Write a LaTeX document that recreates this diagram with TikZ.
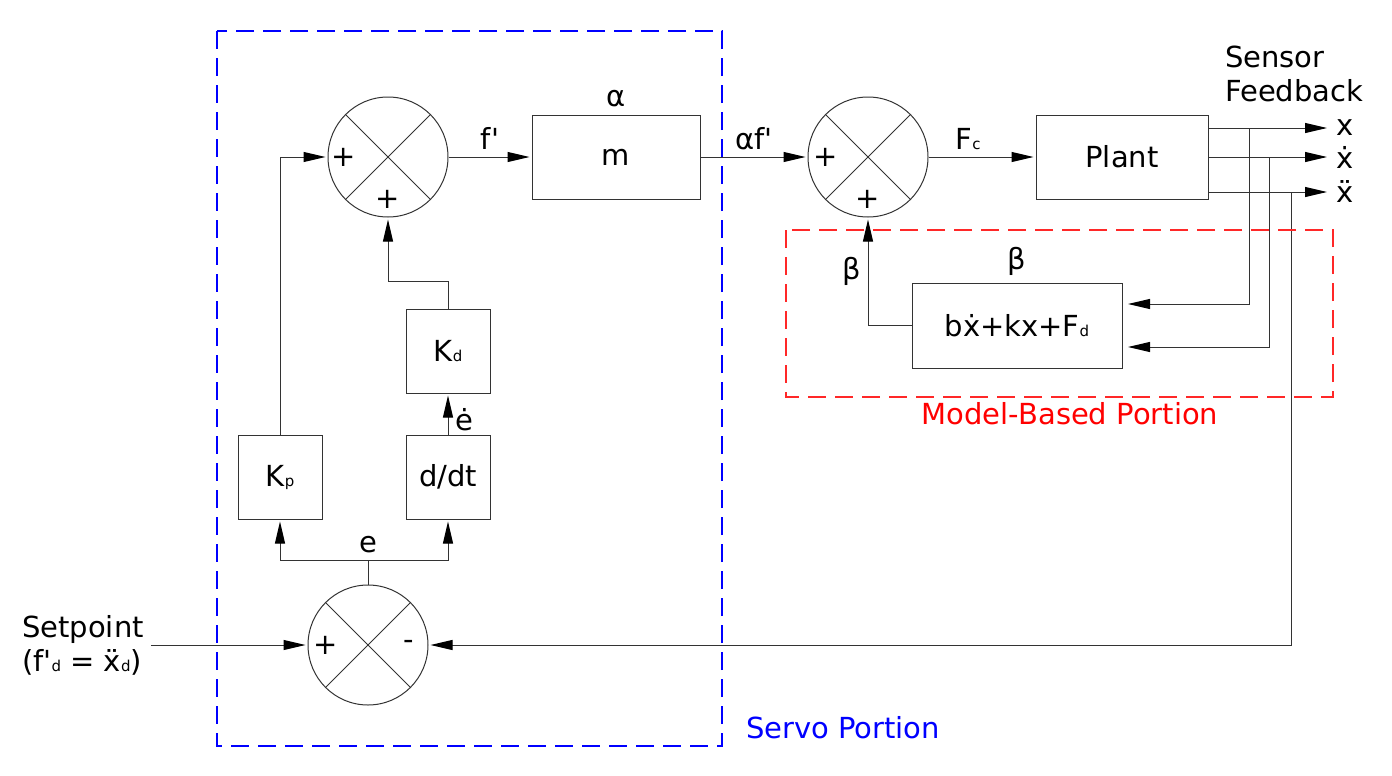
\documentclass[tikz,border=0pt]{standalone}
\usepackage{fontspec}
\setmainfont{DejaVu Sans}
\usetikzlibrary{arrows.meta,positioning}
\newcommand\sbs[1]{{\fontsize{7.5}{8}\selectfont #1}}
\definecolor{servoblue}{RGB}{0,0,255}
\definecolor{modelred}{RGB}{255,40,40}

\begin{document}
\begin{tikzpicture}[
  x=0.5pt, y=-0.5pt,
  font=\fontsize{14.5}{17}\selectfont,
  line width=0.5pt, draw=black!80,
  blk/.style={draw, minimum width=42pt, minimum height=42pt, inner sep=0pt},
  sumnode/.style={draw, circle, minimum size=60pt, inner sep=0pt,
    path picture={\draw[black!80] (path picture bounding box.north west) -- (path picture bounding box.south east)
      (path picture bounding box.north east) -- (path picture bounding box.south west);}},
  sgn/.style={inner sep=0pt},
  arr/.style={-{Triangle[length=11pt,width=5pt,color=black]}, shorten >=1pt},
  frame/.style={line width=0.9pt, dash pattern=on 9pt off 4.5pt}
]
\useasboundingbox (0,0) rectangle (1392,776);

% --- servo part ---
\node[sumnode] (s1) at (388,157) {};
\node[sgn] at ([xshift=8pt]s1.west) {+};
\node[sgn] at ([yshift=9pt]s1.south) {+};
\node[blk, minimum width=84pt, label={[label distance=0pt]above:α}] (m) at (616,157) {m};

\node[blk] (kd) at (448,351) {K\sbs{d}};
\node[blk] (ddt) at (448,477) {d/dt};
\node[blk] (kp) at (280,477) {K\sbs{p}};

\node[sumnode] (s3) at (368,645) {};
\node[sgn] at ([xshift=9pt]s3.west) {+};
\node[sgn] at ([xshift=-10pt]s3.east) {-};

\node[anchor=west, align=left] (sp) at (15,645) {Setpoint\\(f\textquotesingle\sbs{d} = ẍ\sbs{d})};

\draw[arr] (s1.east) -- node[above] {f\textquotesingle} (m.west);
\draw[arr] (kp.north) |- (s1.west);
\draw[arr] (kd.north) -- ++(0,-27) -| (s1.south);
\draw[arr] (ddt.north) -- node[right, pos=0.35] {ė} (kd.south);
\draw (s3.north) -- ++(0,-24) coordinate (ej) node[above] {e};
\draw[arr] (ej) -| (kp.south);
\draw[arr] (ej) -| (ddt.south);
\draw[arr] (sp.east |- s3.west) -- (s3.west);

% --- model-based part ---
\node[sumnode] (s2) at (868,157) {};
\node[sgn] at ([xshift=9pt]s2.west) {+};
\node[sgn] at ([yshift=9pt]s2.south) {+};
\node[blk, minimum width=86pt] (plant) at (1122,157) {Plant};
\node[blk, minimum width=105pt, minimum height=42.5pt, label={[label distance=0pt]above:β}] (bb) at (1017,325.5) {bẋ+kx+F\sbs{d}};

\draw[arr] (m.east) -- node[above] {αf\textquotesingle} (s2.west);
\draw[arr] (s2.east) -- node[above, pos=0.37] {F\sbs{c}} (plant.west);
\draw[arr] (bb.west) -| node[left, pos=0.75] {β} (s2.south);

% --- sensor outputs ---
\coordinate (xo) at (1329,128);
\coordinate (vo) at (1329,157);
\coordinate (ao) at (1329,192);
\draw[arr] (plant.east |- xo) -- (xo) node[right] {x};
\draw[arr] (plant.east |- vo) -- (vo) node[right] {ẋ};
\draw[arr] (plant.east |- ao) -- (ao) node[right] {ẍ};
\node[anchor=west, align=left] (sf) at (1218,74) {Sensor\\Feedback};

\coordinate (ta) at (1249,128);
\coordinate (tb) at (1269,157);
\coordinate (tc) at (1291,192);
\coordinate (bi1) at (1126,304);
\coordinate (bi2) at (1126,347);
\draw[arr] (ta) |- (bi1);
\draw[arr] (tb) |- (bi2);
\draw[arr] (tc) |- (s3.east);

% --- portions ---
\draw[frame, servoblue] (217,31) rectangle (722,746);
\node[servoblue] (servo) at (843,728) {Servo Portion};
\draw[frame, modelred] (786,230) rectangle (1333,397);
\node[red] (model) at (1070,414) {Model-Based Portion};
\end{tikzpicture}
\end{document}
